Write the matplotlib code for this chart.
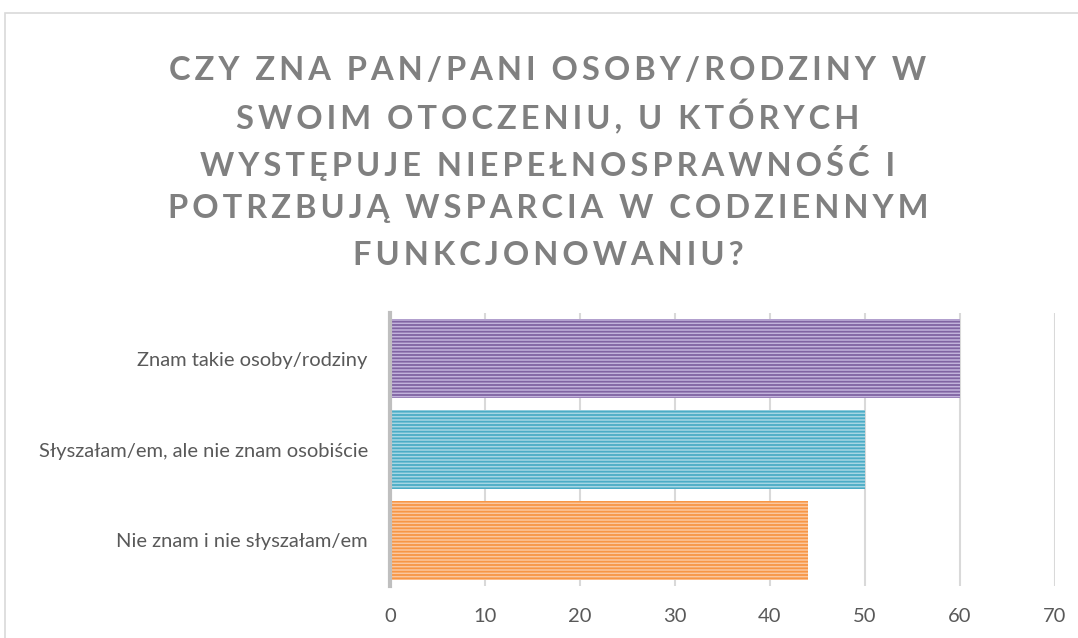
import matplotlib.pyplot as plt
from matplotlib.patches import Rectangle

categories = ["Nie znam i nie słyszałam/em",
              "Słyszałam/em, ale nie znam osobiście",
              "Znam takie osoby/rodziny"]
values = [44, 50, 60]
fills = ["#fbc7a0", "#a6d6e4", "#c2b3dc"]
stripes = ["#f79646", "#4bacc6", "#8064a2"]
xticks = [0, 10, 20, 30, 40, 50, 60, 70]
title_lines = ["CZY ZNA PAN/PANI OSOBY/RODZINY W",
               "SWOIM OTOCZENIU, U KTÓRYCH",
               "WYSTĘPUJE NIEPEŁNOSPRAWNOŚĆ I",
               "POTRZBUJĄ WSPARCIA W CODZIENNYM",
               "FUNKCJONOWANIU?"]

plt.rcParams['font.family'] = ['Lato', 'DejaVu Sans']
plt.rcParams['hatch.linewidth'] = 1.3

fig = plt.figure(figsize=(10.78, 6.38), dpi=100)
fig.patches.append(Rectangle((5 / 1078, -0.1), 1.2, 1 - 13 / 638 + 0.1,
                             transform=fig.transFigure, fill=False,
                             edgecolor="#d9d9d9", linewidth=1.2))

ax = fig.add_axes([390 / 1078, 1 - 586 / 638, 665 / 1078, 273 / 638])
for i, (v, fc, sc) in enumerate(zip(values, fills, stripes)):
    ax.barh(i, v, height=0.86, color=fc, edgecolor=sc, hatch="-----",
            linewidth=0, zorder=3)

ax.set_xlim(0, 70)
ax.set_ylim(-0.5, 2.5)
ax.set_xticks(xticks)
ax.set_yticks(range(len(categories)))
ax.set_yticklabels(categories)
ax.tick_params(length=0, labelsize=14.5, colors="#595959")
ax.tick_params(axis="x", pad=16)
ax.tick_params(axis="y", pad=16)
ax.grid(axis="x", color="#d9d9d9", linewidth=1.5, zorder=0)
for s in ["top", "right", "bottom"]:
    ax.spines[s].set_visible(False)
ax.spines["left"].set_color("#bfbfbf")
ax.spines["left"].set_linewidth(3)
ax.spines["left"].set_zorder(4)

sp = "\u200a\u200a"
for k, line in enumerate(title_lines):
    fig.text(548 / 1078, 1 - (70 + 46.3 * k) / 638, sp.join(line),
             ha="center", va="center", fontsize=23.5, fontweight="bold",
             color="#808080")

fig.savefig("out.png", dpi=100)
